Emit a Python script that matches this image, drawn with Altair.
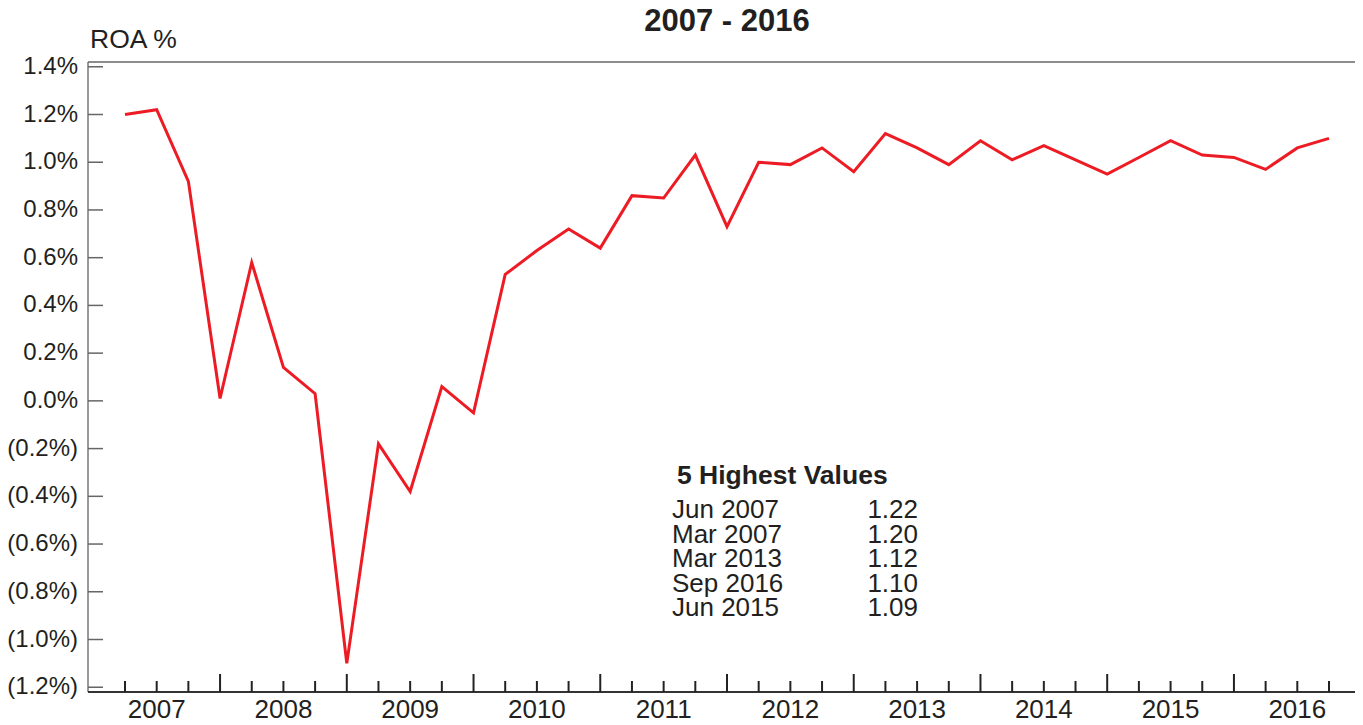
import altair as alt
import pandas as pd

# ---------------- data ----------------
months = ["Mar", "Jun", "Sep", "Dec"]
quarters = [f"{m} {y}" for y in range(2007, 2017) for m in months][:39]
roa = [1.20, 1.22, 0.92, 0.01,
       0.58, 0.14, 0.03, -1.10,
       -0.18, -0.38, 0.06, -0.05,
       0.53, 0.63, 0.72, 0.64,
       0.86, 0.85, 1.03, 0.73,
       1.00, 0.99, 1.06, 0.96,
       1.12, 1.06, 0.99, 1.09,
       1.01, 1.07, 1.01, 0.95,
       1.02, 1.09, 1.03, 1.02,
       0.97, 1.06, 1.10]
y_tick_values = [-1.2, -1.0, -0.8, -0.6, -0.4, -0.2, 0.0, 0.2, 0.4, 0.6, 0.8, 1.0, 1.2, 1.4]
y_tick_labels = ["(1.2%)", "(1.0%)", "(0.8%)", "(0.6%)", "(0.4%)", "(0.2%)", "0.0%",
                 "0.2%", "0.4%", "0.6%", "0.8%", "1.0%", "1.2%", "1.4%"]
year_label_quarter = [1, 5, 9, 13, 17, 21, 25, 29, 33, 37]   # June of each year
year_labels = ["2007", "2008", "2009", "2010", "2011", "2012", "2013", "2014", "2015", "2016"]
top_labels = ["Jun 2007", "Mar 2007", "Mar 2013", "Sep 2016", "Jun 2015"]
top_values = ["1.22", "1.20", "1.12", "1.10", "1.09"]
chart_title = "2007 - 2016"
y_title = "ROA %"
table_title = "5 Highest Values"

# ---------------- style ----------------
W, H = 1267, 630
FONT = "Liberation Sans"
TXT = "#231F20"
RED = "#ED1C24"
X_DOMAIN = [-1.168, 38.821]
Y_DOMAIN = [-1.22, 1.42]

df = pd.DataFrame({"q": list(range(len(roa))), "quarter": quarters, "roa": roa})
ticks_df = pd.DataFrame({"q": list(range(len(roa)))})
ticks_df["long"] = ticks_df["q"] % 4 == 3
short_df = ticks_df[~ticks_df["long"]]
long_df = ticks_df[ticks_df["long"]]
ytick_df = pd.DataFrame({"v": y_tick_values, "lab": y_tick_labels})
year_df = pd.DataFrame({"q": year_label_quarter, "lab": year_labels})

xscale = alt.Scale(domain=X_DOMAIN, nice=False, zero=False)
yscale = alt.Scale(domain=Y_DOMAIN, nice=False, zero=False)

line = alt.Chart(df).mark_line(color=RED, strokeWidth=3).encode(
    x=alt.X("q:Q", scale=xscale, axis=None),
    y=alt.Y("roa:Q", scale=yscale, axis=None),
)

one = pd.DataFrame({"a": [0]})
left_line = alt.Chart(one).mark_rule(color="#777777", strokeWidth=1.5).encode(
    x=alt.value(0), y=alt.value(0), y2=alt.value(H),
)
bottom_line = alt.Chart(one).mark_rule(color="#333333", strokeWidth=2).encode(
    x=alt.value(0), x2=alt.value(W), y=alt.value(H),
)
top_border = alt.Chart(one).mark_rule(color="#666666", strokeWidth=1.5).encode(
    x=alt.value(0), x2=alt.value(W), y=alt.value(0),
)

short_ticks = alt.Chart(short_df).mark_rule(color="#222222", strokeWidth=2).encode(
    x=alt.X("q:Q", scale=xscale, axis=None),
    y=alt.value(H), y2=alt.value(H - 11),
)
long_ticks = alt.Chart(long_df).mark_rule(color="#222222", strokeWidth=2).encode(
    x=alt.X("q:Q", scale=xscale, axis=None),
    y=alt.value(H), y2=alt.value(H - 18),
)
y_ticks = alt.Chart(ytick_df).mark_rule(color="#666666", strokeWidth=1.5).encode(
    y=alt.Y("v:Q", scale=yscale, axis=None),
    x=alt.value(0), x2=alt.value(15),
)
y_labels = alt.Chart(ytick_df).mark_text(
    font=FONT, fontSize=24, color=TXT, align="right", baseline="middle"
).encode(
    y=alt.Y("v:Q", scale=yscale, axis=None),
    x=alt.value(-10), text="lab:N",
)
x_labels = alt.Chart(year_df).mark_text(
    font=FONT, fontSize=26, color=TXT, align="center", baseline="alphabetic"
).encode(
    x=alt.X("q:Q", scale=xscale, axis=None),
    y=alt.value(H + 26), text="lab:N",
)

def label(text, x, y, size, bold=False, align="left"):
    return alt.Chart(pd.DataFrame({"t": [text]})).mark_text(
        font=FONT, fontSize=size, fontWeight="bold" if bold else "normal",
        color=TXT, align=align, baseline="alphabetic",
    ).encode(text="t:N", x=alt.value(x), y=alt.value(y))

texts = [
    label(chart_title, 639, -31, 31, bold=True, align="center"),
    label(y_title, 2, -14, 26.5),
    label(table_title, 589, 422, 26.5, bold=True),
]
for k, (lab, val) in enumerate(zip(top_labels, top_values)):
    yy = 456 + 24.5 * k
    texts.append(label(lab, 584, yy, 26))
    texts.append(label(val, 830, yy, 26, align="right"))

chart = alt.layer(line, left_line, bottom_line, top_border, short_ticks, long_ticks, y_ticks,
                  y_labels, x_labels, *texts).properties(
    width=W, height=H,
    padding={"left": 80, "top": 54, "right": 0, "bottom": 34},
    autosize=alt.AutoSizeParams(type="none"),
).configure_view(stroke=None)

chart.save("out.html", embed_options={"renderer": "svg", "actions": False})
